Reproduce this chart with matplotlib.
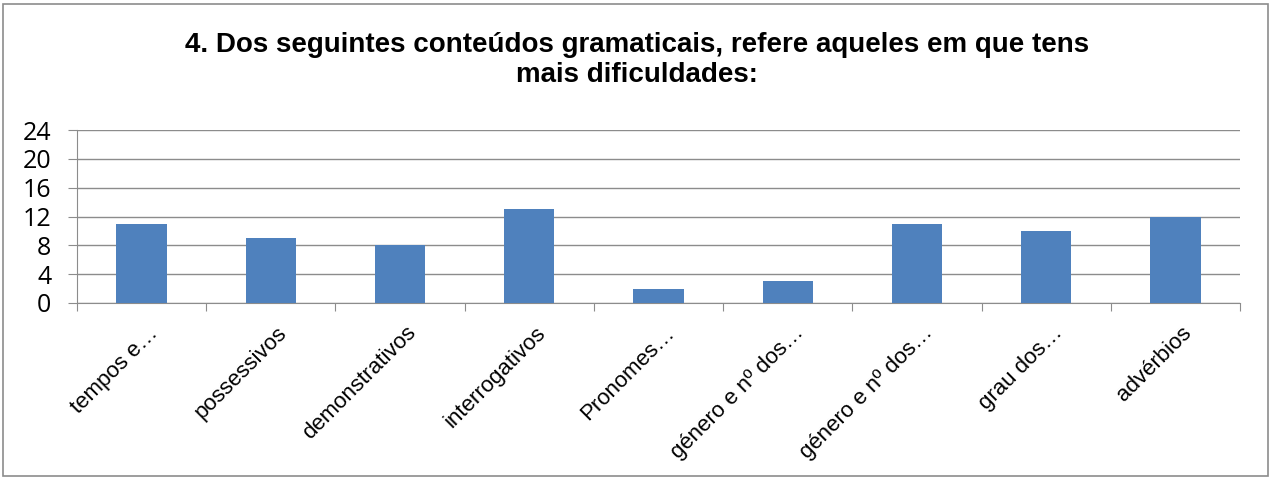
import matplotlib
matplotlib.use("Agg")
import matplotlib.pyplot as plt
from matplotlib.patches import Rectangle
from matplotlib.transforms import blended_transform_factory, ScaledTranslation
import numpy as np

categories = ["tempos e…", "possessivos", "demonstrativos", "interrogativos",
              "Pronomes…", "género e nº dos…", "género e nº dos…", "grau dos…", "advérbios"]
values = [11, 9, 8, 13, 2, 3, 11, 10, 12]
yticks = [0, 4, 8, 12, 16, 20, 24]
title = "4. Dos seguintes conteúdos gramaticais, refere aqueles em que tens\nmais dificuldades:"

fig = plt.figure(figsize=(12.74, 4.98), dpi=100)
W, H = 1274, 498
# outer border
fig.patches.append(Rectangle((3 / W, 1 - 476 / H), 1265 / W, 472 / H, transform=fig.transFigure,
                             fill=False, edgecolor="#8c8c8c", linewidth=1.2))

ax = fig.add_axes([77 / W, 1 - 303 / H, (1240 - 77) / W, (303 - 130) / H])
x = np.arange(len(categories))
ax.bar(x, values, width=0.39, color="#4f81bd", zorder=3)
ax.set_xlim(-0.5, len(categories) - 0.5)
ax.set_ylim(0, 24)
ax.set_yticks(yticks)
ax.set_yticklabels([str(v) for v in yticks], fontsize=18, family="Open Sans")
ax.yaxis.grid(True, color="#8c8c8c", linewidth=1.0, zorder=0)
for s in ["top", "right"]:
    ax.spines[s].set_visible(False)
ax.spines["left"].set_color("#8c8c8c")
ax.spines["bottom"].set_color("#8c8c8c")
ax.tick_params(axis="y", length=6.5, color="#8c8c8c", pad=12)
# category tick marks at boundaries
ax.set_xticks(np.arange(len(categories) + 1) - 0.5)
ax.set_xticklabels([])
ax.tick_params(axis="x", length=6, color="#8c8c8c")

trans = blended_transform_factory(ax.transData, ax.transAxes) + \
    ScaledTranslation(4 / 72, -14 / 72, fig.dpi_scale_trans)
for xi, lab in zip(x, categories):
    ax.text(xi, 0, lab, transform=trans, rotation=45, ha="right", va="top",
            rotation_mode="anchor", fontsize=16, family="Liberation Sans", color="#000000")

fig.text(0.5, 1 - 60 / H, title, ha="center", va="center", fontsize=20, fontweight="bold",
         family="Liberation Sans", linespacing=1.18)

fig.savefig("out.png", dpi=100)
